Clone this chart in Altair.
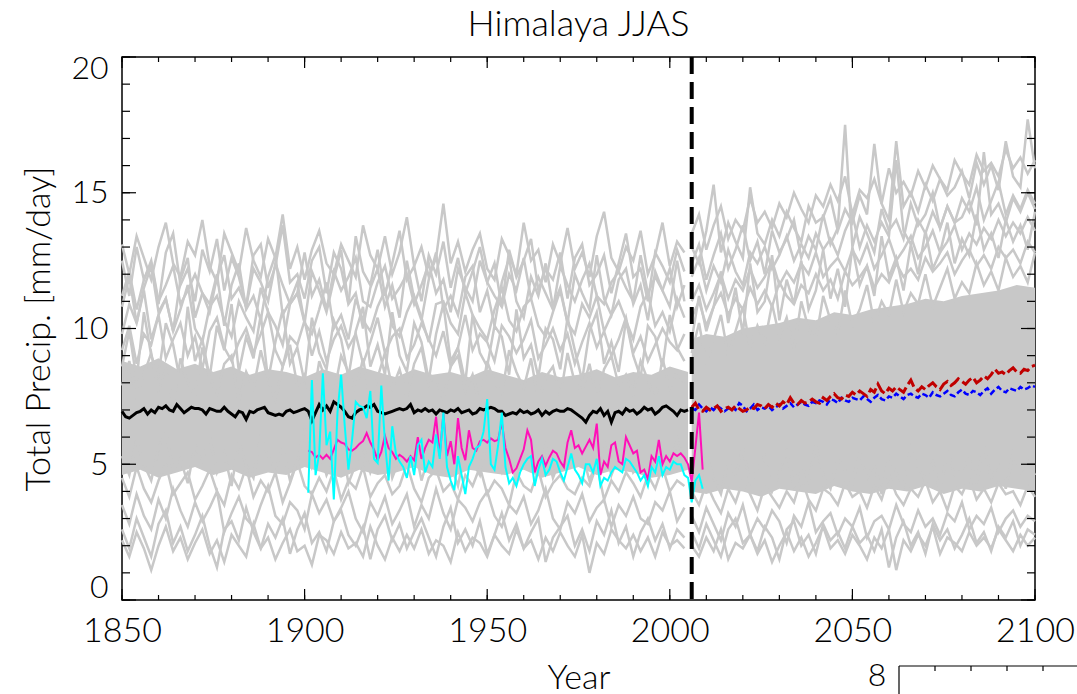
import altair as alt
import pandas as pd

FONT = "Lato"
W, H = 913, 543

# ---------------- data ----------------
years_hist = list(range(1850, 2006))
years_obs = list(range(1901, 2010))
years_fut = list(range(2006, 2101))
years_hist2 = list(range(1850, 2005, 2))
years_fut2 = list(range(2006, 2101, 2))
core_years_hist = list(range(1850, 2006, 5))
core_years_fut = [2006] + list(range(2010, 2101, 5))
split_year = [2006]

black_mean = [
    6.95, 6.75, 6.70, 6.80, 6.90, 6.95, 7.05, 6.85, 7.00, 6.90,
    7.10, 7.05, 7.15, 7.00, 6.95, 7.20, 7.05, 6.90, 7.00, 7.10,
    7.05, 7.05, 7.00, 6.85, 7.05, 7.00, 6.95, 6.95, 7.10, 6.95,
    6.85, 6.75, 6.95, 6.90, 6.65, 6.95, 6.90, 7.00, 7.05, 7.10,
    6.90, 6.85, 6.80, 6.85, 6.80, 6.95, 7.00, 6.90, 6.95, 7.00,
    7.05, 6.95, 6.60, 6.90, 7.20, 7.00, 7.15, 6.95, 7.30, 7.20,
    7.10, 6.95, 6.75, 6.70, 6.90, 7.00, 7.05, 7.15, 7.10, 7.20,
    6.95, 6.90, 6.85, 6.90, 6.95, 7.00, 7.05, 7.00, 7.05, 7.20,
    6.90, 7.00, 6.95, 7.05, 6.95, 7.00, 6.85, 7.00, 6.95, 6.90,
    7.00, 6.95, 7.05, 6.90, 6.95, 7.00, 6.85, 6.90, 7.05, 7.00,
    7.05, 7.10, 7.05, 6.95, 6.95, 6.80, 6.85, 6.90, 6.85, 7.00,
    6.90, 6.95, 6.85, 6.90, 7.00, 6.80, 6.95, 6.85, 6.95, 7.00,
    6.95, 6.95, 7.05, 7.00, 6.90, 6.80, 6.70, 6.55, 6.80, 6.95,
    6.90, 7.05, 6.80, 6.95, 6.55, 6.90, 6.95, 6.85, 7.05, 6.95,
    7.00, 6.85, 6.95, 7.10, 7.00, 7.05, 6.85, 6.95, 7.10, 7.15,
    7.05, 6.95, 6.80, 7.00, 6.95, 7.00,
]

obs_magenta = [
    5.50, 5.45, 5.25, 5.35, 5.20, 5.35, 5.20, 5.55, 5.90,
    5.80, 5.75, 5.55, 5.50, 5.60, 5.75, 5.85, 6.15, 5.80, 5.55,
    5.15, 5.45, 6.05, 5.60, 5.45, 5.20, 5.35, 5.25, 5.10, 5.30,
    5.15, 6.00, 5.20, 5.60, 5.90, 5.80, 6.75, 5.30, 6.85, 5.30,
    5.85, 5.00, 6.70, 5.60, 5.15, 6.25, 5.60, 5.50, 5.85, 5.90,
    5.80, 5.95, 5.85, 5.90, 6.55, 5.60, 5.20, 4.70, 4.85, 5.20,
    5.55, 6.25, 5.90, 4.70, 5.10, 5.30, 4.95, 5.25, 5.50, 5.40,
    5.10, 4.90, 5.80, 6.25, 5.60, 5.70, 5.40, 5.65, 5.90, 5.60,
    6.50, 4.60, 5.10, 4.90, 5.70, 5.80, 5.10, 5.00, 6.00, 5.70,
    5.40, 5.50, 4.70, 4.80, 4.45, 5.30, 5.10, 5.90, 5.00, 5.30,
    5.10, 5.40, 5.30, 5.40, 5.25, 5.00, 4.35, 5.60, 6.90, 4.80,
]

obs_cyan = [
    3.95, 8.10, 4.60, 5.40, 8.35, 5.70, 6.20, 3.70, 6.90,
    8.30, 6.40, 4.80, 5.90, 7.30, 7.15, 7.10, 6.70, 7.70, 5.20,
    5.05, 7.90, 5.80, 4.40, 6.40, 5.40, 5.10, 4.90, 4.50, 5.30,
    4.60, 5.70, 5.90, 4.70, 5.10, 4.90, 6.10, 5.20, 6.90, 4.90,
    4.40, 4.05, 5.30, 4.60, 3.90, 4.90, 5.20, 5.60, 5.70, 6.20,
    7.40, 5.00, 4.80, 5.70, 6.90, 4.90, 4.30, 4.50, 4.20, 4.70,
    5.00, 5.20, 5.30, 4.20, 4.80, 5.20, 4.60, 4.80, 5.20, 5.10,
    4.70, 4.40, 4.90, 5.40, 4.80, 4.60, 4.30, 5.00, 5.00, 4.70,
    5.20, 4.20, 4.50, 4.40, 4.70, 4.90, 4.80, 4.70, 5.20, 5.10,
    4.90, 4.70, 4.40, 4.60, 4.20, 4.90, 4.70, 5.30, 4.60, 4.90,
    4.80, 5.10, 5.00, 5.00, 4.60, 4.50, 3.60, 4.40, 4.60, 4.10,
]

fut_red = [
    7.10, 7.25, 7.00, 6.95, 7.10, 7.00, 7.05, 7.15, 6.95, 7.05,
    7.10, 7.00, 7.15, 7.05, 6.95, 7.00, 7.10, 7.05, 7.20, 7.15,
    7.05, 7.20, 7.10, 7.25, 7.15, 7.30, 7.20, 7.45, 7.25, 7.20,
    7.35, 7.25, 7.30, 7.40, 7.30, 7.25, 7.45, 7.35, 7.50, 7.60,
    7.45, 7.40, 7.55, 7.50, 7.65, 7.55, 7.70, 7.60, 7.50, 7.75,
    7.65, 7.95, 7.70, 7.60, 7.80, 7.70, 7.85, 7.75, 7.65, 7.90,
    8.10, 7.80, 7.70, 7.85, 7.75, 7.90, 8.00, 7.85, 7.75, 7.95,
    8.05, 7.90, 8.00, 8.15, 8.05, 7.95, 8.10, 8.20, 8.00, 8.10,
    8.25, 8.15, 8.30, 8.50, 8.35, 8.40, 8.30, 8.45, 8.55, 8.40,
    8.35, 8.50, 8.45, 8.60, 8.65,
]

fut_blue = [
    7.05, 7.00, 7.20, 7.05, 6.95, 7.10, 7.00, 7.15, 7.05, 6.95,
    7.05, 7.10, 7.00, 7.25, 7.15, 6.95, 7.05, 7.20, 7.00, 7.10,
    7.05, 7.15, 7.00, 7.10, 7.20, 7.05, 7.15, 7.25, 7.10, 7.20,
    7.30, 7.20, 7.15, 7.30, 7.25, 7.35, 7.30, 7.20, 7.40, 7.35,
    7.25, 7.45, 7.35, 7.30, 7.45, 7.40, 7.35, 7.50, 7.40, 7.30,
    7.45, 7.55, 7.40, 7.35, 7.50, 7.45, 7.60, 7.50, 7.40, 7.55,
    7.60, 7.50, 7.45, 7.60, 7.55, 7.45, 7.65, 7.55, 7.50, 7.60,
    7.70, 7.55, 7.50, 7.65, 7.75, 7.60, 7.55, 7.70, 7.65, 7.55,
    7.70, 7.80, 7.60, 7.75, 7.85, 7.70, 7.65, 7.80, 7.75, 7.70,
    7.85, 7.75, 7.80, 7.90, 7.85,
]

# dense core of the model spread (historical / future)
core_hist_lo = [4.6, 4.8, 4.5, 4.7, 4.9, 4.6, 4.8, 4.5, 4.7, 4.6, 4.9, 4.7, 4.5, 4.8, 4.6, 4.7,
                4.9, 4.6, 4.5, 4.8, 4.7, 4.6, 4.8, 4.5, 4.7, 4.9, 4.6, 4.8, 4.7, 4.5, 4.6, 4.8]
core_hist_hi = [8.8, 8.6, 8.9, 8.5, 8.7, 8.4, 8.6, 8.3, 8.5, 8.4, 8.2, 8.5, 8.3, 8.6, 8.4, 8.2,
                8.5, 8.3, 8.4, 8.2, 8.5, 8.3, 8.1, 8.4, 8.2, 8.3, 8.5, 8.2, 8.4, 8.3, 8.6, 8.4]
core_fut_lo = [4.0, 3.9, 4.1, 4.0, 3.8, 4.1, 4.0, 3.9, 4.2, 4.0, 3.9, 4.1, 4.0, 4.2, 3.9, 4.1, 4.0, 4.2, 4.1, 4.0]
core_fut_hi = [9.6, 9.8, 9.7, 10.0, 10.1, 10.2, 10.4, 10.3, 10.6, 10.5, 10.7, 10.8, 10.9, 11.1, 11.0, 11.2,
               11.3, 11.4, 11.6, 11.5]

# individual model runs, historical (every 2nd year)
hist_runs = [
    [12.5, 11.2, 13.0, 11.8, 12.4, 10.9, 12.8, 13.5, 11.6, 12.2, 11.0, 12.9, 12.1, 13.3, 11.4, 12.6, 11.9, 10.8, 12.7, 13.1,
     11.5, 12.3, 13.8, 11.7, 12.0, 11.1, 12.5, 13.0, 11.3, 12.8, 12.2, 10.9, 13.4, 12.1, 11.6, 12.9, 11.2, 12.4, 13.6, 11.8,
     12.3, 11.0, 12.7, 12.0, 13.2, 11.5, 12.6, 11.3, 12.1, 13.0, 11.7, 12.4, 10.8, 12.9, 11.9, 12.5, 13.3, 11.4, 12.2, 11.8,
     12.8, 11.1, 12.6, 13.1, 11.6, 12.0, 12.7, 11.3, 12.4, 13.5, 11.9, 12.2, 11.0, 12.8, 12.3, 11.7, 12.9, 12.1],
    [10.8, 11.9, 10.2, 11.5, 12.3, 10.6, 11.1, 9.9, 11.8, 12.6, 10.4, 11.3, 10.9, 12.0, 10.1, 11.6, 12.4, 10.7, 11.2, 10.3,
     11.9, 12.7, 10.5, 11.0, 11.7, 10.2, 12.1, 11.4, 10.6, 11.8, 12.9, 10.9, 11.3, 10.0, 11.5, 12.2, 10.8, 11.6, 10.4, 12.5,
     11.1, 10.3, 11.8, 12.8, 10.7, 11.2, 10.5, 11.9, 12.3, 10.6, 11.4, 10.1, 11.7, 12.6, 11.0, 10.4, 11.9, 11.2, 12.4, 10.8,
     11.5, 10.2, 12.0, 11.3, 10.7, 12.7, 11.1, 10.5, 11.8, 12.2, 10.9, 11.6, 10.3, 12.1, 11.4, 10.8, 12.5, 11.0],
    [9.8, 10.9, 10.2, 11.4, 9.6, 10.5, 11.1, 9.9, 10.7, 11.6, 10.0, 9.5, 10.8, 11.2, 10.3, 9.7, 11.0, 10.4, 9.9, 11.5,
     10.6, 10.1, 9.4, 10.9, 11.3, 10.2, 9.8, 10.7, 11.7, 10.0, 10.5, 9.6, 11.1, 10.3, 9.9, 10.8, 11.4, 10.1, 9.7, 10.6,
     11.2, 10.4, 9.5, 10.9, 11.0, 10.2, 9.8, 11.3, 10.5, 10.0, 9.6, 10.7, 11.5, 10.3, 9.9, 10.8, 11.1, 10.1, 9.7, 10.6,
     11.4, 10.2, 9.8, 10.9, 10.4, 11.2, 9.9, 10.5, 11.0, 10.3, 9.6, 10.8, 11.3, 10.1, 10.6, 9.9, 11.1, 10.4],
    [13.1, 12.0, 13.4, 12.6, 11.8, 13.0, 13.9, 12.4, 11.9, 13.2, 12.7, 14.0, 12.3, 11.7, 13.5, 12.8, 12.1, 13.7, 12.5, 11.9,
     13.3, 12.6, 14.2, 12.2, 13.0, 11.8, 12.9, 13.6, 12.4, 12.0, 13.1, 12.5, 11.9, 13.8, 12.7, 12.2, 13.4, 12.0, 12.8, 14.1,
     12.3, 13.0, 11.9, 12.6, 14.6, 12.4, 13.2, 12.1, 12.9, 13.5, 12.2, 11.8, 13.3, 12.7, 12.0, 13.9, 12.5, 12.9, 11.7, 13.1,
     12.4, 13.7, 12.2, 12.8, 11.9, 13.4, 14.3, 12.6, 12.1, 13.0, 12.5, 13.6, 12.0, 12.7, 13.9, 12.3, 13.2, 12.8],
    [11.2, 12.1, 10.7, 11.8, 12.5, 11.0, 11.6, 12.3, 10.9, 11.4, 12.0, 11.3, 10.6, 11.9, 12.7, 11.1, 11.5, 10.8, 12.2, 11.7,
     11.0, 12.4, 11.6, 10.9, 11.3, 12.8, 11.2, 11.8, 10.7, 12.1, 11.4, 11.9, 12.6, 11.0, 10.8, 11.7, 12.3, 11.1, 11.5, 12.0,
     10.9, 11.6, 12.4, 11.3, 11.8, 10.6, 12.2, 11.5, 11.0, 12.5, 11.7, 11.2, 10.8, 12.0, 11.4, 12.6, 11.1, 11.9, 11.3, 10.7,
     12.3, 11.6, 11.0, 11.8, 12.4, 11.2, 10.9, 11.7, 12.1, 11.5, 11.0, 12.7, 11.3, 11.9, 11.4, 12.2, 10.8, 11.6],
    [9.2, 10.1, 8.7, 9.8, 9.4, 10.5, 8.9, 9.6, 10.2, 9.0, 9.7, 8.5, 9.9, 10.4, 9.3, 8.8, 9.5, 10.0, 9.1, 9.8,
     10.6, 9.2, 8.6, 9.7, 9.4, 10.3, 9.0, 9.9, 8.8, 9.6, 10.1, 9.3, 9.8, 8.7, 9.5, 10.4, 9.1, 9.7, 10.0, 8.9,
     9.4, 10.2, 9.6, 9.0, 9.9, 8.6, 9.3, 10.5, 9.2, 9.8, 9.5, 8.8, 10.1, 9.7, 9.1, 9.6, 10.3, 8.9, 9.4, 10.0,
     9.2, 9.8, 8.7, 9.5, 10.2, 9.3, 9.9, 9.0, 9.6, 10.4, 9.1, 9.7, 8.8, 9.4, 10.0, 9.5, 9.2, 9.8],
    [8.6, 9.9, 8.1, 10.6, 9.0, 8.3, 10.2, 9.4, 8.0, 10.8, 8.8, 9.6, 8.2, 10.1, 9.2, 10.9, 8.4, 9.7, 8.9, 10.5,
     8.1, 9.5, 10.7, 8.7, 9.3, 8.0, 10.4, 9.1, 8.5, 10.3, 9.6, 8.2, 9.9, 10.8, 8.6, 9.4, 8.3, 10.6, 9.0, 8.4,
     10.2, 9.5, 8.1, 9.8, 10.9, 8.8, 9.3, 8.0, 10.5, 9.1, 8.6, 10.1, 9.7, 8.3, 10.7, 8.9, 9.4, 8.2, 10.0, 9.6,
     8.5, 10.4, 9.2, 8.1, 9.9, 10.6, 8.7, 9.5, 8.4, 10.3, 9.0, 8.2, 10.1, 9.7, 8.6, 10.5, 9.3, 8.8],
    [7.9, 8.8, 7.4, 8.3, 9.1, 7.7, 8.5, 7.2, 8.9, 8.0, 7.5, 9.3, 8.2, 7.6, 8.7, 9.0, 7.3, 8.4, 7.8, 9.2,
     8.1, 7.4, 8.6, 9.4, 7.9, 8.3, 7.1, 8.8, 8.0, 7.6, 9.0, 8.4, 7.7, 8.9, 7.3, 8.2, 9.1, 7.8, 8.5, 7.5,
     8.7, 9.3, 7.9, 8.1, 7.4, 8.6, 9.0, 7.7, 8.3, 7.2, 8.8, 8.0, 7.6, 9.2, 8.4, 7.8, 8.9, 7.3, 8.2, 8.6,
     7.5, 9.1, 8.0, 7.7, 8.7, 7.4, 8.5, 9.0, 7.9, 8.3, 7.6, 8.8, 8.1, 7.3, 8.9, 7.8, 8.4, 8.0],
    [5.3, 4.6, 5.9, 5.0, 4.4, 5.6, 6.2, 4.8, 5.2, 4.3, 5.7, 5.1, 6.0, 4.7, 5.4, 4.2, 5.8, 5.0, 4.5, 6.1,
     5.3, 4.8, 5.6, 4.4, 5.1, 6.3, 4.9, 5.5, 4.6, 5.2, 5.9, 4.3, 5.0, 5.7, 4.7, 5.4, 6.0, 4.5, 5.2, 4.9,
     5.8, 4.4, 5.3, 6.1, 4.8, 5.0, 4.2, 5.6, 5.1, 4.6, 5.9, 5.3, 4.7, 5.5, 4.3, 6.2, 5.0, 4.8, 5.7, 4.5,
     5.2, 6.0, 4.9, 5.4, 4.4, 5.1, 5.8, 4.6, 5.3, 6.1, 4.7, 5.0, 4.3, 5.6, 5.2, 4.8, 5.9, 5.1],
    [2.6, 1.9, 3.0, 2.3, 1.6, 2.8, 3.3, 2.1, 2.7, 1.8, 2.4, 3.1, 2.0, 1.2, 2.6, 2.9, 2.2, 3.4, 2.5, 1.9,
     2.8, 2.3, 3.0, 1.7, 2.6, 3.2, 2.1, 2.5, 1.8, 2.9, 3.3, 2.4, 2.0, 2.7, 1.5, 2.6, 3.1, 2.2, 2.8, 1.9,
     2.5, 3.0, 2.3, 1.6, 2.7, 3.4, 2.1, 2.6, 2.0, 2.9, 1.7, 2.4, 3.2, 2.2, 2.8, 1.9, 2.5, 3.0, 1.4, 2.3,
     2.7, 3.1, 2.0, 2.6, 1.8, 2.9, 2.4, 3.3, 2.1, 2.7, 1.6, 2.5, 3.0, 2.2, 2.8, 1.9, 2.6, 2.3],
    [3.5, 2.8, 3.9, 3.1, 2.6, 3.7, 3.0, 4.1, 3.3, 2.7, 3.6, 2.9, 3.4, 4.0, 2.5, 3.2, 3.8, 3.0, 2.7, 3.5,
     4.2, 3.1, 2.8, 3.6, 3.3, 2.6, 3.9, 3.2, 3.7, 2.9, 3.4, 4.0, 3.0, 2.5, 3.6, 3.1, 3.8, 2.8, 3.3, 3.9,
     2.7, 3.5, 3.0, 4.1, 3.2, 2.6, 3.7, 3.4, 2.9, 3.6, 4.0, 3.1, 2.7, 3.5, 3.2, 3.8, 2.8, 3.3, 4.1, 3.0,
     2.6, 3.6, 3.2, 3.9, 2.9, 3.4, 3.7, 2.7, 3.5, 3.1, 3.8, 3.0, 2.8, 3.6, 3.3, 4.0, 2.9, 3.4],
    [2.2, 1.6, 2.5, 1.9, 1.1, 2.0, 2.7, 1.8, 2.3, 1.5, 2.1, 2.6, 1.7, 2.2, 1.4, 2.4, 2.0, 1.6, 2.8, 1.9,
     2.3, 1.5, 2.1, 2.6, 1.8, 2.0, 1.3, 2.4, 2.2, 1.7, 2.5, 1.9, 2.1, 1.6, 2.7, 2.0, 1.5, 2.3, 1.8, 2.4,
     1.9, 2.6, 1.7, 2.2, 2.0, 1.4, 2.5, 1.8, 2.3, 2.1, 1.6, 2.4, 2.0, 1.7, 2.6, 1.9, 2.2, 1.5, 2.3, 1.8,
     2.5, 2.0, 1.6, 2.4, 1.0, 2.1, 1.7, 2.6, 2.2, 1.9, 2.4, 1.8, 2.3, 1.6, 2.5, 2.0, 2.2, 1.9],
    [4.5, 3.8, 4.9, 4.1, 3.6, 4.4, 5.0, 3.9, 4.3, 4.7, 3.7, 4.2, 4.8, 4.0, 3.5, 4.6, 4.1, 4.9, 3.8, 4.4,
     4.0, 4.7, 3.6, 4.3, 5.1, 4.2, 3.9, 4.5, 4.0, 4.8, 3.7, 4.4, 4.1, 4.9, 3.8, 4.3, 4.6, 3.9, 4.2, 5.0,
     4.1, 3.6, 4.5, 4.8, 4.0, 4.3, 3.7, 4.6, 4.2, 4.9, 3.9, 4.4, 4.1, 3.5, 4.7, 4.2, 4.0, 4.8, 3.8, 4.3,
     4.6, 4.1, 3.9, 4.5, 4.2, 5.0, 3.7, 4.4, 4.0, 4.7, 4.3, 3.8, 4.6, 4.1, 4.9, 4.0, 4.4, 4.2],
]

# individual model runs, scenarios (every 2nd year)
fut_runs = [
    [12.4, 13.1, 11.8, 12.7, 13.5, 12.2, 12.9, 13.8, 12.5, 13.2, 12.0, 13.6, 12.8, 13.3, 14.0, 12.6,
     13.4, 12.9, 14.2, 13.1, 13.7, 17.5, 13.0, 14.1, 13.5, 12.8, 14.4, 13.6, 14.0, 13.3, 14.6, 13.8,
     14.2, 15.0, 13.7, 14.5, 13.9, 14.8, 14.3, 15.2, 14.0, 14.7, 15.4, 14.2, 14.9, 14.4, 15.1, 14.6],
    [11.9, 12.6, 11.4, 12.3, 11.7, 12.9, 12.1, 11.6, 12.8, 12.4, 13.0, 12.2, 12.7, 13.4, 12.5, 13.1,
     12.6, 13.5, 12.9, 13.3, 12.7, 13.6, 14.2, 13.0, 13.8, 13.2, 13.9, 13.4, 16.2, 13.6, 13.1, 14.0,
     13.5, 14.3, 13.7, 14.5, 13.9, 14.1, 14.7, 13.8, 16.5, 14.2, 14.6, 13.9, 14.8, 14.3, 15.0, 14.4],
    [11.0, 11.6, 10.7, 11.3, 12.0, 11.1, 11.8, 11.4, 12.2, 11.5, 11.9, 12.5, 11.6, 12.1, 11.7, 12.4,
     12.0, 12.8, 11.9, 12.3, 12.6, 12.1, 12.9, 12.4, 13.1, 12.2, 12.7, 13.3, 12.5, 12.9, 13.4, 12.6,
     13.0, 13.6, 12.8, 13.2, 13.8, 12.9, 13.5, 13.1, 13.7, 13.3, 14.0, 13.4, 13.9, 13.5, 14.1, 13.6],
    [13.0, 12.4, 13.6, 15.3, 12.8, 13.9, 13.2, 12.6, 15.2, 13.5, 13.1, 14.0, 13.4, 14.3, 13.7, 13.2,
     14.5, 13.9, 14.1, 14.8, 13.6, 14.4, 13.9, 14.9, 14.2, 16.8, 14.6, 14.0, 16.9, 14.5, 15.0, 14.3,
     15.3, 14.7, 15.5, 14.9, 15.2, 15.8, 14.8, 16.1, 15.3, 16.0, 15.1, 16.9, 15.6, 15.2, 17.7, 15.9],
    [10.4, 11.0, 10.1, 10.8, 11.3, 10.5, 11.1, 10.7, 11.5, 10.9, 11.4, 10.8, 11.7, 11.2, 10.9, 11.6,
     11.3, 12.0, 11.4, 11.8, 11.1, 12.1, 11.6, 11.9, 12.3, 11.5, 12.0, 11.7, 12.4, 11.9, 12.2, 11.8,
     12.6, 12.1, 12.4, 12.8, 12.0, 12.5, 12.9, 12.3, 12.7, 12.2, 13.0, 12.6, 12.9, 12.4, 13.2, 12.8],
    [13.5, 14.2, 12.9, 13.8, 14.5, 13.3, 14.0, 13.6, 14.8, 13.9, 14.3, 13.7, 14.6, 14.1, 15.0, 14.4,
     13.9, 14.9, 14.5, 15.3, 14.7, 15.6, 14.2, 15.1, 14.8, 15.5, 14.6, 15.9, 15.0, 15.4, 14.9, 15.8,
     15.2, 16.0, 15.5, 15.1, 16.2, 15.7, 15.3, 16.4, 15.8, 16.1, 15.6, 16.6, 15.9, 16.3, 15.7, 16.2],
    [9.6, 11.2, 9.9, 10.8, 12.1, 10.2, 11.5, 9.8, 12.4, 10.6, 11.0, 12.7, 10.3, 11.8, 10.9, 12.5,
     10.7, 11.4, 12.9, 11.1, 12.2, 10.8, 13.0, 11.6, 12.3, 11.2, 13.4, 11.9, 12.6, 11.4, 13.1, 12.0,
     13.6, 12.2, 12.8, 13.9, 12.4, 13.3, 12.7, 14.2, 12.9, 13.5, 12.6, 14.0, 13.2, 13.8, 12.9, 14.3],
    [9.1, 10.2, 8.7, 9.6, 10.5, 9.0, 9.9, 10.8, 9.3, 10.1, 9.5, 10.9, 9.7, 10.4, 9.2, 11.0,
     10.0, 9.6, 11.2, 10.3, 9.8, 11.4, 10.1, 10.7, 11.6, 10.2, 11.0, 10.5, 11.8, 10.6, 11.3, 10.9,
     12.0, 10.8, 11.5, 12.2, 11.1, 11.7, 11.3, 12.4, 11.6, 12.1, 11.4, 12.6, 11.9, 12.3, 11.7, 12.8],
    [4.9, 4.1, 5.4, 4.5, 3.9, 5.1, 4.6, 5.6, 4.3, 4.8, 5.3, 4.0, 4.7, 5.5, 4.2, 5.0,
     4.4, 5.7, 4.6, 4.1, 5.2, 4.8, 4.3, 5.4, 4.5, 5.0, 3.9, 5.3, 4.7, 4.2, 5.6, 4.9,
     4.4, 5.1, 4.0, 5.5, 4.6, 4.8, 5.2, 4.3, 5.7, 4.5, 5.0, 4.1, 5.4, 4.7, 5.1, 4.6],
    [2.5, 1.9, 2.8, 2.2, 1.6, 2.6, 3.0, 2.1, 2.4, 1.8, 2.7, 2.3, 1.5, 2.6, 2.9, 2.0,
     2.4, 1.7, 2.8, 2.2, 2.5, 1.9, 2.7, 2.1, 2.4, 1.8, 2.6, 1.2, 2.3, 2.9, 2.0, 2.5,
     1.7, 2.8, 2.2, 2.6, 1.9, 2.4, 3.0, 2.1, 2.5, 1.8, 2.7, 2.3, 2.9, 2.0, 2.6, 2.4],
    [3.1, 2.5, 3.4, 2.8, 2.2, 3.2, 2.7, 3.5, 2.4, 3.0, 2.6, 3.3, 2.9, 2.1, 3.1, 2.7,
     3.6, 2.5, 2.9, 3.2, 2.4, 3.0, 2.7, 3.4, 2.3, 2.9, 3.1, 2.6, 3.5, 2.8, 2.5, 3.3,
     2.7, 3.0, 2.4, 3.2, 2.9, 3.6, 2.6, 3.1, 2.8, 3.4, 2.5, 3.0, 3.3, 2.7, 3.1, 2.9],
    [2.0, 1.6, 2.3, 1.8, 2.6, 1.5, 2.1, 1.9, 2.4, 1.7, 2.2, 1.4, 2.0, 2.5, 1.8, 2.3,
     1.6, 2.1, 2.7, 1.9, 2.2, 1.7, 2.4, 2.0, 1.5, 2.3, 1.9, 2.6, 1.1, 2.2, 1.8, 2.4,
     2.0, 2.7, 1.7, 2.3, 2.1, 1.8, 2.5, 2.0, 2.3, 1.9, 2.6, 2.2, 1.8, 2.4, 2.0, 2.3],
    [4.0, 3.5, 4.3, 3.7, 3.2, 4.1, 3.6, 4.4, 3.9, 3.3, 4.2, 3.8, 3.4, 4.0, 3.6, 4.5,
     3.7, 3.3, 4.1, 3.9, 3.5, 4.3, 3.8, 4.0, 3.4, 4.2, 3.7, 4.6, 3.9, 3.5, 4.1, 3.8,
     4.4, 3.6, 4.0, 3.3, 4.2, 3.9, 4.5, 3.7, 4.1, 3.6, 4.3, 3.9, 4.0, 3.5, 4.2, 3.8],
]

x_major = list(range(1850, 2101, 50))
x_minor = list(range(1850, 2101, 10))
y_major = list(range(0, 21, 5))
y_minor = list(range(0, 21, 1))

# ---------------- tables ----------------
frames = []
for i, run in enumerate(hist_runs):
    frames.append(pd.DataFrame({"year": years_hist2, "v": run, "run": f"h{i}"}))
for i, run in enumerate(fut_runs):
    frames.append(pd.DataFrame({"year": years_fut2, "v": run, "run": f"f{i}"}))
runs_df = pd.concat(frames, ignore_index=True)

core_h = pd.DataFrame({"year": core_years_hist, "v": core_hist_lo, "hi": core_hist_hi})
core_f = pd.DataFrame({"year": core_years_fut, "v": core_fut_lo, "hi": core_fut_hi})
black_df = pd.DataFrame({"year": years_hist, "v": black_mean})
mag_df = pd.DataFrame({"year": years_obs, "v": obs_magenta})
cyan_df = pd.DataFrame({"year": years_obs, "v": obs_cyan})
red_df = pd.DataFrame({"year": years_fut, "v": fut_red})
blue_df = pd.DataFrame({"year": years_fut, "v": fut_blue})
split_df = pd.DataFrame({"year": split_year})

XS = alt.Scale(domain=[1850, 2100], nice=False, zero=False)
YS = alt.Scale(domain=[0, 20], nice=False, zero=False)
GRAY = "#c8c8c8"

X_AXIS = alt.Axis(values=x_major, format="d", ticks=False, domain=False, grid=False,
                  labelFont=FONT, labelFontWeight=300, labelColor="black",
                  labelFontSize=34, labelPadding=14, labelFlush=False, labelOverlap=False,
                  title="Year", titleFont=FONT, titleFontWeight=300, titleColor="black",
                  titleFontSize=34, titlePadding=13)
Y_AXIS = alt.Axis(values=y_major, format="d", ticks=False, domain=False, grid=False,
                  labelFont=FONT, labelFontWeight=300, labelColor="black",
                  labelFontSize=32, labelPadding=14, labelFlush=True, labelFlushOffset=4,
                  labelOverlap=False,
                  title="Total Precip. [mm/day]", titleFont=FONT, titleFontWeight=300, titleColor="black",
                  titleFontSize=34, titlePadding=14)


def X(field="year"):
    return alt.X(f"{field}:Q", scale=XS, axis=X_AXIS, title="Year")


def Y(field="v"):
    return alt.Y(f"{field}:Q", scale=YS, axis=Y_AXIS, title="Total Precip. [mm/day]")


core_h_l = alt.Chart(core_h).mark_area(color=GRAY, opacity=1).encode(x=X(), y=Y(), y2="hi:Q")
core_f_l = alt.Chart(core_f).mark_area(color=GRAY, opacity=1).encode(x=X(), y=Y(), y2="hi:Q")
runs_l = alt.Chart(runs_df).mark_line(color=GRAY, strokeWidth=2.5).encode(x=X(), y=Y(), detail="run:N")


def series(df, color, width, dash=None):
    kw = dict(color=color, strokeWidth=width)
    if dash:
        kw["strokeDash"] = dash
    return alt.Chart(df).mark_line(**kw).encode(x=X(), y=Y())


black_l = series(black_df, "black", 3)
mag_l = series(mag_df, "#ff10b8", 2)
cyan_l = series(cyan_df, "#00ffff", 2)
blue_l = series(blue_df, "#0000ff", 2.5, [6, 3])
red_l = series(red_df, "#c00000", 3, [12, 4])

split_l = alt.Chart(split_df).mark_rule(color="black", strokeWidth=4, strokeDash=[17, 8]).encode(x=X())


def xticks(vals, length):
    d = pd.DataFrame({"year": vals})
    bot = alt.Chart(d).mark_rule(color="black", strokeWidth=1.2).encode(
        x=X(), y=alt.value(H), y2=alt.value(H - length))
    top = alt.Chart(d).mark_rule(color="black", strokeWidth=1.2).encode(
        x=X(), y=alt.value(0), y2=alt.value(length))
    return [bot, top]


def yticks(vals, length):
    d = pd.DataFrame({"v": vals})
    left = alt.Chart(d).mark_rule(color="black", strokeWidth=1.2).encode(
        y=Y(), x=alt.value(0), x2=alt.value(length))
    right = alt.Chart(d).mark_rule(color="black", strokeWidth=1.2).encode(
        y=Y(), x=alt.value(W), x2=alt.value(W - length))
    return [left, right]


tick_layers = xticks(x_minor, 5) + xticks(x_major, 11) + yticks(y_minor, 8) + yticks(y_major, 14)

# fragment of the neighbouring panel, bottom right
one = pd.DataFrame({"t": ["8"]})
frag = [
    alt.Chart(one).mark_text(font=FONT, fontSize=32, fontWeight=300, align="center", baseline="middle",
                             color="black").encode(x=alt.value(755), y=alt.value(619), text="t:N"),
    alt.Chart(one).mark_rule(color="black", strokeWidth=1.2).encode(
        x=alt.value(777), x2=alt.value(960), y=alt.value(609)),
    alt.Chart(one).mark_rule(color="black", strokeWidth=1.2).encode(
        x=alt.value(777), y=alt.value(609), y2=alt.value(640)),
]
for k in range(1, 5):
    frag.append(alt.Chart(one).mark_rule(color="black", strokeWidth=1.2).encode(
        x=alt.value(777 + 36 * k), y=alt.value(609), y2=alt.value(614)))

chart = alt.layer(
    core_h_l, core_f_l, runs_l, black_l, mag_l, cyan_l, blue_l, red_l, split_l, *tick_layers, *frag
).properties(
    width=W,
    height=H,
    background="white",
    title=alt.TitleParams("Himalaya JJAS", fontSize=36, font=FONT, fontWeight=300, anchor="middle",
                          offset=8, color="black"),
    padding={"left": 122, "top": 57, "right": 42, "bottom": 94},
    autosize=alt.AutoSizeParams(type="none"),
).configure_view(
    stroke="black", strokeWidth=1.5
)

chart.save("out.html", embed_options={"renderer": "svg", "actions": False})
